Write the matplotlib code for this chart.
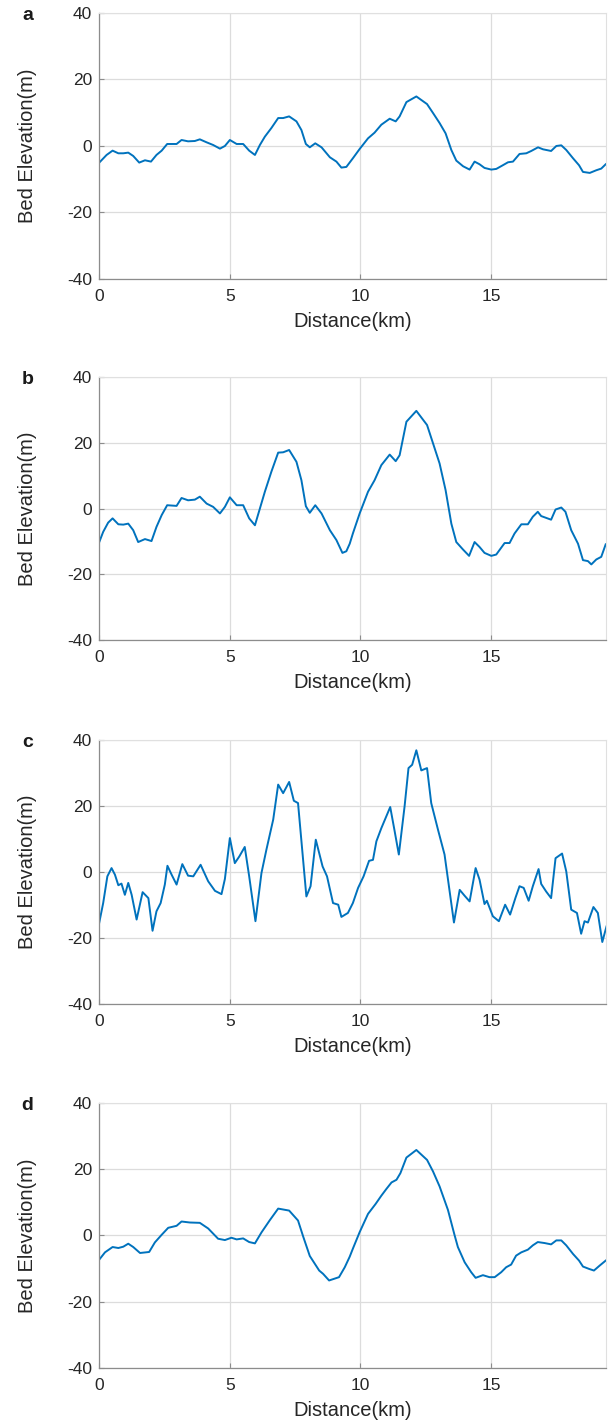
import matplotlib.pyplot as plt

plt.rcParams['font.family'] = ['Liberation Sans', 'DejaVu Sans']
plt.rcParams['axes.unicode_minus'] = False

# bed elevation profiles (distance in km, elevation in m)
x_a = [0, 0.28, 0.51, 0.73, 0.92, 1.11, 1.30, 1.53, 1.75, 1.98, 2.19, 2.39, 2.60, 2.96, 3.15,
       3.40, 3.66, 3.85, 4.11, 4.36, 4.62, 4.81, 5.0, 5.26, 5.51, 5.74, 5.96, 6.15, 6.34, 6.59,
       6.85, 7.04, 7.27, 7.55, 7.74, 7.91, 8.06, 8.27, 8.51, 8.83, 9.08, 9.27, 9.46, 9.71, 9.97,
       10.29, 10.54, 10.8, 11.12, 11.35, 11.5, 11.76, 12.14, 12.55, 12.78, 13.03, 13.26, 13.48,
       13.67, 13.93, 14.18, 14.37, 14.56, 14.75, 15.01, 15.2, 15.45, 15.65, 15.84, 16.09, 16.35,
       16.54, 16.8, 16.99, 17.3, 17.5, 17.69, 17.88, 18.14, 18.37, 18.52, 18.78, 19.03, 19.22, 19.39]
y_a = [-5.0, -2.7, -1.4, -2.2, -2.2, -2.0, -3.0, -5.0, -4.3, -4.7, -2.7, -1.4, 0.6, 0.6, 1.8,
       1.4, 1.5, 2.0, 1.1, 0.3, -0.8, 0.0, 1.8, 0.6, 0.6, -1.4, -2.7, 0.3, 2.8, 5.4,
       8.4, 8.4, 8.9, 7.4, 4.8, 0.6, -0.4, 0.8, -0.4, -3.4, -4.7, -6.5, -6.3, -3.7, -0.9,
       2.3, 4.0, 6.4, 8.2, 7.4, 8.9, 13.2, 14.9, 12.6, 9.9, 6.9, 3.8, -1.2,
       -4.4, -6.1, -7.1, -4.7, -5.5, -6.6, -7.1, -6.9, -5.8, -4.9, -4.7, -2.4, -2.2,
       -1.5, -0.4, -1.0, -1.5, 0.0, 0.2, -1.2, -3.7, -5.8, -7.8, -8.1, -7.3, -6.8, -5.5]

x_b = [0, 0.15, 0.34, 0.51, 0.73, 0.92, 1.11, 1.3, 1.49, 1.75, 2.0, 2.19, 2.39, 2.6, 2.96,
       3.15, 3.4, 3.66, 3.85, 4.11, 4.36, 4.62, 4.81, 5.0, 5.26, 5.51, 5.74, 5.96, 6.15, 6.34,
       6.59, 6.85, 7.04, 7.27, 7.55, 7.74, 7.91, 8.06, 8.27, 8.51, 8.83, 9.08, 9.31, 9.46, 9.59,
       9.71, 9.97, 10.29, 10.54, 10.8, 11.12, 11.35, 11.5, 11.76, 12.14, 12.55, 12.78, 13.03,
       13.26, 13.48, 13.67, 13.93, 14.16, 14.37, 14.56, 14.75, 15.01, 15.2, 15.52, 15.71, 15.9,
       16.16, 16.41, 16.6, 16.79, 16.92, 17.3, 17.47, 17.69, 17.85, 18.07, 18.33, 18.52, 18.71,
       18.84, 19.03, 19.22, 19.39]
y_b = [-10.2, -7.1, -4.3, -3.0, -4.8, -4.9, -4.6, -6.6, -10.2, -9.3, -9.9, -5.6, -2.0, 1.0, 0.8,
       3.2, 2.5, 2.7, 3.6, 1.5, 0.5, -1.5, 0.5, 3.4, 1.0, 1.0, -3.0, -5.1, 0.0, 5.1,
       11.2, 17.0, 17.1, 17.8, 14.2, 8.6, 0.7, -1.3, 1.0, -1.5, -6.6, -9.6, -13.5, -13.0, -10.7,
       -7.6, -1.5, 5.1, 8.6, 13.2, 16.4, 14.4, 16.2, 26.4, 29.7, 25.4, 19.8, 13.7,
       5.6, -4.6, -10.2, -12.5, -14.4, -10.2, -11.7, -13.5, -14.4, -14.0, -10.5, -10.5, -7.6,
       -4.8, -4.8, -2.5, -1.0, -2.3, -3.4, -0.3, 0.3, -1.0, -6.6, -10.7, -15.7, -16.0,
       -17.0, -15.5, -14.7, -10.9]

x_c = [0, 0.15, 0.31, 0.47, 0.6, 0.73, 0.85, 0.98, 1.11, 1.24, 1.43, 1.66, 1.88, 2.04, 2.19,
       2.35, 2.51, 2.61, 2.77, 2.96, 3.18, 3.4, 3.6, 3.88, 4.17, 4.43, 4.68, 4.81, 5.0, 5.19,
       5.36, 5.57, 5.74, 5.98, 6.21, 6.4, 6.66, 6.85, 7.04, 7.27, 7.45, 7.61, 7.93, 8.09, 8.29,
       8.55, 8.72, 8.95, 9.15, 9.27, 9.52, 9.71, 9.91, 10.12, 10.33, 10.48, 10.61, 10.8, 11.14,
       11.3, 11.47, 11.69, 11.84, 11.98, 12.14, 12.33, 12.55, 12.71, 12.97, 13.22, 13.58, 13.8,
       13.99, 14.18, 14.41, 14.56, 14.75, 14.84, 15.07, 15.3, 15.54, 15.73, 15.94, 16.09, 16.25,
       16.44, 16.6, 16.82, 16.92, 17.11, 17.3, 17.47, 17.72, 17.88, 18.07, 18.29, 18.45, 18.58,
       18.71, 18.92, 19.09, 19.26, 19.42]
y_c = [-15.3, -9.4, -1.3, 1.2, -0.8, -4.0, -3.5, -6.9, -3.3, -6.9, -14.4, -6.1, -7.9, -17.8, -11.9,
       -9.4, -3.8, 1.9, -0.8, -3.8, 2.4, -1.1, -1.3, 2.2, -2.8, -5.7, -6.7, -2.1, 10.3, 2.7,
       4.7, 7.6, -1.3, -14.9, -0.3, 6.8, 15.9, 26.5, 23.9, 27.3, 21.6, 20.9, -7.4, -4.3, 9.8,
       1.7, -1.3, -9.4, -9.9, -13.6, -12.4, -9.4, -4.8, -1.3, 3.4, 3.7, 9.3, 13.3, 19.7,
       12.8, 5.3, 19.9, 31.5, 32.5, 36.9, 30.8, 31.5, 20.9, 12.8, 5.3, -15.3, -5.4,
       -7.2, -8.9, 1.2, -2.3, -9.7, -8.7, -13.4, -14.9, -9.9, -12.9, -7.7, -4.3, -4.8,
       -8.7, -4.3, 0.9, -3.6, -5.9, -7.9, 4.2, 5.6, 0.2, -11.4, -12.4, -18.7, -14.9,
       -15.3, -10.6, -12.4, -21.2, -16.5]

x_d = [0, 0.22, 0.51, 0.73, 0.92, 1.11, 1.3, 1.56, 1.91, 2.13, 2.39, 2.64, 2.96, 3.15, 3.47,
       3.85, 4.17, 4.55, 4.81, 5.06, 5.26, 5.51, 5.74, 5.96, 6.21, 6.53, 6.85, 7.27, 7.61, 7.81,
       8.06, 8.42, 8.57, 8.8, 9.18, 9.4, 9.59, 9.71, 9.97, 10.29, 10.58, 10.8, 10.99, 11.19,
       11.38, 11.53, 11.76, 12.14, 12.55, 12.78, 13.03, 13.35, 13.6, 13.73, 13.99, 14.24, 14.41,
       14.69, 14.94, 15.14, 15.39, 15.58, 15.77, 15.96, 16.16, 16.41, 16.6, 16.79, 17.05, 17.3,
       17.5, 17.69, 17.88, 18.14, 18.37, 18.52, 18.75, 18.94, 19.16, 19.39]
y_d = [-7.3, -5.1, -3.5, -3.8, -3.4, -2.5, -3.5, -5.3, -5.0, -2.1, 0.2, 2.3, 2.9, 4.2, 3.9,
       3.8, 2.1, -1.0, -1.4, -0.7, -1.2, -0.9, -2.0, -2.4, 0.9, 4.6, 8.1, 7.5, 4.5, -0.4,
       -6.2, -10.6, -11.6, -13.6, -12.6, -9.6, -6.4, -4.0, 1.0, 6.5, 9.5, 12.0, 14.0, 16.0,
       16.8, 18.8, 23.5, 25.8, 22.8, 19.3, 14.8, 7.7, 0.2, -3.5, -8.1, -11.1, -12.8,
       -12.0, -12.6, -12.6, -11.1, -9.6, -8.8, -6.1, -5.1, -4.3, -3.0, -2.0, -2.3, -2.7,
       -1.5, -1.5, -3.0, -5.6, -7.6, -9.4, -10.1, -10.6, -9.1, -7.6]

panel_labels = ['a', 'b', 'c', 'd']
profiles = [(x_a, y_a), (x_b, y_b), (x_c, y_c), (x_d, y_d)]

fig = plt.figure(figsize=(6.09, 14.27), dpi=100)

# axes boxes in figure fractions (left, bottom, width, height)
boxes = [(0.163, 0.8045, 0.832, 0.1864),
         (0.163, 0.5515, 0.832, 0.1843),
         (0.163, 0.2964, 0.832, 0.1850),
         (0.163, 0.0414, 0.832, 0.1857)]

for box, lab, (xs, ys) in zip(boxes, panel_labels, profiles):
    ax = fig.add_axes(box)
    ax.plot(xs, ys, color='#0072BD', lw=1.4)
    ax.set_xlim(0, 19.4)
    ax.set_ylim(-40, 40)
    ax.set_xticks([0, 5, 10, 15])
    ax.set_yticks([-40, -20, 0, 20, 40])
    ax.grid(True, color='#dcdcdc', lw=0.9)
    ax.set_axisbelow(True)
    for s in ['top', 'right']:
        ax.spines[s].set_color('#e0e0e0')
    for s in ['left', 'bottom']:
        ax.spines[s].set_color('#8c8c8c')
        ax.spines[s].set_linewidth(0.9)
    ax.tick_params(direction='in', length=3.5, width=0.8, color='#8c8c8c',
                   labelsize=12.5, labelcolor='#262626')
    ax.tick_params(axis='x', pad=7)
    ax.tick_params(axis='y', pad=5)
    ax.set_xlabel('Distance(km)', fontsize=14.5, color='#262626', labelpad=6)
    ax.set_ylabel('Bed Elevation(m)', fontsize=14.5, color='#262626', labelpad=22)
    fig.text(0.045, box[1] + box[3] - 0.002, lab, fontsize=14, fontweight='bold',
             ha='center', va='center', color='#1a1a1a')

fig.savefig('out.png', dpi=100)
